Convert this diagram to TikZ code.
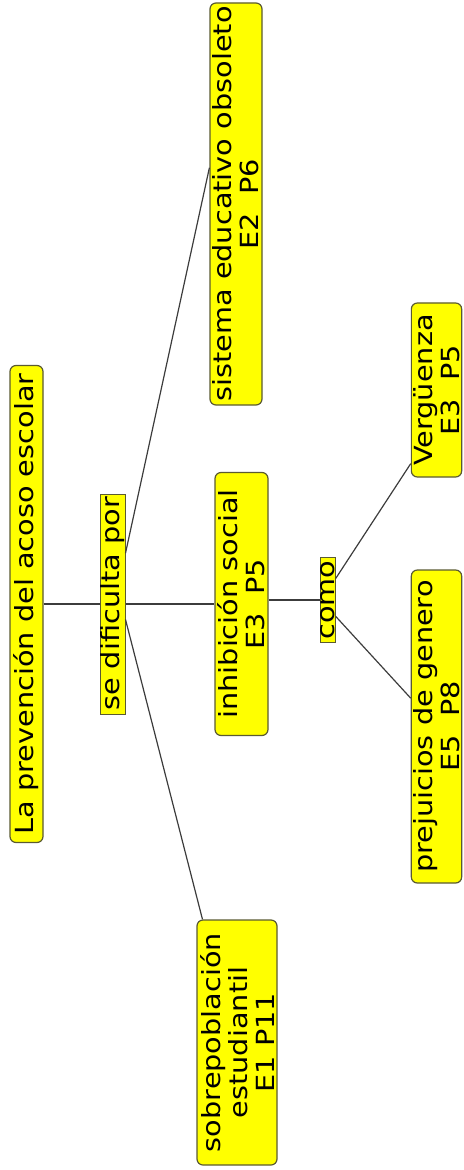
\documentclass[tikz,border=0pt]{standalone}
\usepackage{fontspec}
\setmainfont{DejaVu Sans}
\usepackage{graphicx}
\usetikzlibrary{calc}
\newcommand{\stx}[1]{\scalebox{1.15}[1]{#1}}
\definecolor{boxfill}{RGB}{255,255,0}
\definecolor{boxline}{RGB}{90,90,50}
\definecolor{linkline}{RGB}{60,60,60}
\tikzset{
  concept/.style={draw=boxline, fill=boxfill, rounded corners=3pt, line width=0.6pt,
    rotate=90, inner xsep=0pt, inner ysep=1pt, align=center,
    font=\fontsize{12.5}{13.5}\selectfont},
  linkbox/.style={draw=boxline, fill=boxfill, line width=0.5pt, rotate=90,
    inner sep=0pt, font=\fontsize{12.5}{13.5}\selectfont},
  conn/.style={draw=linkline, line width=0.6pt}
}
\begin{document}
\begin{tikzpicture}[x=0.5pt,y=-0.5pt]
\useasboundingbox (0,0) rectangle (463,1170);
\node[concept, minimum width=238.5pt, minimum height=16.5pt] (root) at (26.5,604) {\stx{La prevención del acoso escolar}};
\node[linkbox, minimum width=110pt, minimum height=12.5pt] (se) at (112.5,604) {\stx{se dificulta por}};
\node[concept, minimum width=131.5pt, minimum height=26.5pt] (inh) at (241.5,604) {\stx{inhibición social}\\\stx{E3~~P5}};
\node[linkbox, minimum width=42.5pt, minimum height=7pt] (como) at (328,600) {\stx{como}};
\node[concept, minimum width=201pt, minimum height=26pt] (sis) at (236,204) {\stx{sistema educativo obsoleto}\\\stx{E2~~P6}};
\node[concept, minimum width=87pt, minimum height=24pt] (verg) at (436.5,390) {\stx{Vergüenza}\\\stx{E3~~P5}};
\node[concept, minimum width=156.5pt, minimum height=24pt] (prej) at (436.5,726.5) {\stx{prejuicios de genero}\\\stx{E5~~P8}};
\node[concept, minimum width=122.5pt, minimum height=40pt] (sob) at (237,1042.5) {\stx{sobrepoblación}\\\stx{estudiantil}\\\stx{E1 P11}};
\draw[conn] (root) -- (se);
\draw[conn] (se) -- (inh);
\draw[conn] (inh.south |- como.north) -- (como.north);
\draw[conn] ($(se.south east)!0.27!(se.south west)$) -- ($(sis.north east)!0.41!(sis.north west)$);
\draw[conn] ($(se.south east)!0.57!(se.south west)$) -- ($(sob.north east)!0.075!(sob.south east)$);
\draw[conn] ($(como.south east)!0.25!(como.south west)$) -- ($(verg.north east)!0.92!(verg.north west)$);
\draw[conn] ($(como.south east)!0.69!(como.south west)$) -- ($(prej.north east)!0.41!(prej.north west)$);
\end{tikzpicture}
\end{document}
